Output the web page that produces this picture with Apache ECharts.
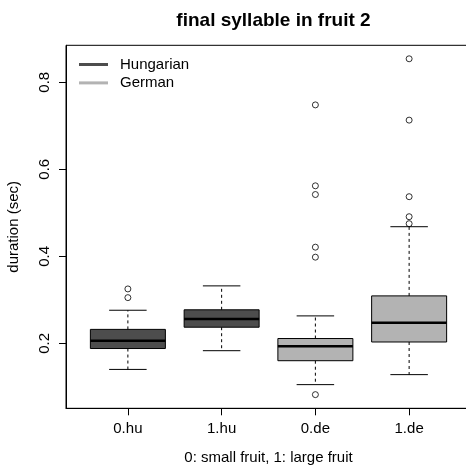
<!DOCTYPE html>
<html>
<head>
<meta charset="utf-8">
<script src="https://cdn.jsdelivr.net/npm/echarts@6/dist/echarts.min.js"></script>
<style>html,body{margin:0;padding:0;background:#fff}#c{width:466px;height:468px}</style>
</head>
<body>
<div id="c"></div>
<script>
const categories = ['0.hu', '1.hu', '0.de', '1.de'];
const language = ['Hungarian', 'Hungarian', 'German', 'German'];
const lowWhisker = [0.140, 0.183, 0.105, 0.128];
const q1 = [0.188, 0.237, 0.160, 0.203];
const median = [0.206, 0.256, 0.193, 0.247];
const q3 = [0.232, 0.277, 0.211, 0.309];
const highWhisker = [0.276, 0.332, 0.263, 0.468];
const outliers = [
  [0.325, 0.305],
  [],
  [0.748, 0.562, 0.542, 0.421, 0.398, 0.082],
  [0.854, 0.713, 0.537, 0.491, 0.475]
];
const yTicks = [0.2, 0.4, 0.6, 0.8];
const languages = ['Hungarian', 'German'];
const langColors = {Hungarian: '#4d4d4d', German: '#b3b3b3'};

const FONT = '"Liberation Sans", Arial, Helvetica, sans-serif';

function boxData(lang) {
  const out = [];
  categories.forEach((c, i) => {
    if (language[i] === lang) out.push([i + 1, lowWhisker[i], q1[i], median[i], q3[i], highWhisker[i]]);
  });
  return out;
}

function renderBox(params, api) {
  const x = api.value(0);
  const pLow = api.coord([x, api.value(1)]);
  const pQ1 = api.coord([x, api.value(2)]);
  const pMed = api.coord([x, api.value(3)]);
  const pQ3 = api.coord([x, api.value(4)]);
  const pHigh = api.coord([x, api.value(5)]);
  const halfW = api.size([0.4, 0])[0];
  const capHalf = api.size([0.2, 0])[0];
  const cx = pMed[0];
  const color = api.visual('color');
  const lineStyle = {stroke: '#000', lineWidth: 1};
  return {
    type: 'group',
    children: [
      {type: 'line', shape: {x1: cx, y1: pQ3[1], x2: cx, y2: pHigh[1]}, style: {stroke: '#000', lineWidth: 1, lineDash: [3, 3]}},
      {type: 'line', shape: {x1: cx, y1: pQ1[1], x2: cx, y2: pLow[1]}, style: {stroke: '#000', lineWidth: 1, lineDash: [3, 3]}},
      {type: 'line', shape: {x1: cx - capHalf, y1: pHigh[1], x2: cx + capHalf, y2: pHigh[1]}, style: lineStyle},
      {type: 'line', shape: {x1: cx - capHalf, y1: pLow[1], x2: cx + capHalf, y2: pLow[1]}, style: lineStyle},
      {type: 'rect', shape: {x: cx - halfW, y: pQ3[1], width: 2 * halfW, height: pQ1[1] - pQ3[1]}, style: {fill: color, stroke: '#000', lineWidth: 1}},
      {type: 'line', shape: {x1: cx - halfW, y1: pMed[1], x2: cx + halfW, y2: pMed[1]}, style: {stroke: '#000', lineWidth: 2.5}}
    ]
  };
}

const outlierData = [];
outliers.forEach((arr, i) => arr.forEach(v => outlierData.push([i + 1, v])));

const series = languages.map(lang => ({
  name: lang,
  type: 'custom',
  color: langColors[lang],
  itemStyle: {color: langColors[lang]},
  renderItem: renderBox,
  encode: {x: 0, y: [1, 2, 3, 4, 5]},
  data: boxData(lang),
  clip: false,
  z: 2
}));
series.push({
  name: 'outliers',
  type: 'scatter',
  symbol: 'circle',
  symbolSize: 6,
  itemStyle: {color: 'transparent', borderColor: '#000', borderWidth: 1},
  data: outlierData,
  z: 3,
  silent: true
});

const chart = echarts.init(document.getElementById('c'), null, {renderer: 'canvas'});
chart.setOption({
  animation: false,
  backgroundColor: '#fff',
  textStyle: {fontFamily: FONT},
  title: {
    text: 'final syllable in fruit 2',
    left: 268.5,
    textAlign: 'center',
    top: 6,
    textStyle: {fontFamily: FONT, fontWeight: 'bold', fontSize: 19, color: '#000'}
  },
  legend: {
    orient: 'vertical',
    left: 74,
    top: 51,
    itemWidth: 29,
    itemHeight: 3,
    itemGap: 1.4,
    data: languages.map(l => ({name: l, icon: 'rect'})),
    textStyle: {fontFamily: FONT, fontSize: 15, color: '#000', lineHeight: 17, padding: [0, 0, 0, 7]}
  },
  grid: {
    left: 66, top: 45.3, width: 405, height: 363,
    outerBoundsMode: 'none',
    show: true, borderColor: '#000', borderWidth: 1, backgroundColor: 'transparent',
    containLabel: false
  },
  xAxis: {
    type: 'value',
    min: 0.34, max: 4.66,
    name: '0: small fruit, 1: large fruit',
    nameLocation: 'middle',
    nameGap: 42,
    nameTextStyle: {fontFamily: FONT, fontSize: 15, color: '#000'},
    axisLine: {show: true, lineStyle: {color: '#000', width: 1}},
    axisTick: {show: true, length: 7, lineStyle: {color: '#000'}, customValues: [1, 2, 3, 4]},
    axisLabel: {
      show: true, margin: 13, fontFamily: FONT, fontSize: 15, color: '#000',
      customValues: [1, 2, 3, 4],
      formatter: v => categories[Math.round(v) - 1]
    },
    splitLine: {show: false}
  },
  yAxis: {
    type: 'value',
    min: 0.0506, max: 0.885,
    name: 'duration (sec)',
    nameLocation: 'middle',
    nameGap: 45,
    nameTextStyle: {fontFamily: FONT, fontSize: 15, color: '#000'},
    axisLine: {show: true, lineStyle: {color: '#000', width: 1}},
    axisTick: {show: true, length: 7, lineStyle: {color: '#000'}, customValues: yTicks},
    axisLabel: {
      show: true, rotate: 90, margin: 14, fontFamily: FONT, fontSize: 15, color: '#000',
      customValues: yTicks,
      formatter: v => v.toFixed(1)
    },
    splitLine: {show: false}
  },
  series: series
});
</script>
</body>
</html>
